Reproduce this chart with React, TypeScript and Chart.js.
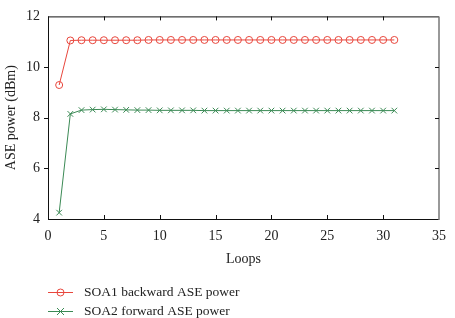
import React, { useEffect, useRef } from "react";
import { Chart, registerables } from "chart.js";

Chart.register(...registerables);

const loops: number[] = Array.from({ length: 31 }, (_, i) => i + 1);

const soa1Backward: number[] = [
  9.29, 11.05, 11.06, 11.06, 11.06, 11.06, 11.06, 11.06, 11.07, 11.07,
  11.07, 11.07, 11.07, 11.07, 11.07, 11.07, 11.07, 11.07, 11.07, 11.07,
  11.07, 11.07, 11.07, 11.07, 11.07, 11.07, 11.07, 11.07, 11.07, 11.07, 11.07,
];

const soa2Forward: number[] = [
  4.25, 8.15, 8.3, 8.32, 8.33, 8.32, 8.31, 8.3, 8.3, 8.29,
  8.29, 8.29, 8.29, 8.28, 8.28, 8.28, 8.28, 8.28, 8.28, 8.28,
  8.28, 8.28, 8.28, 8.28, 8.28, 8.28, 8.28, 8.28, 8.28, 8.28, 8.28,
];

const seriesNames: string[] = ["SOA1 backward ASE power", "SOA2 forward ASE power"];
const xTicks: number[] = [0, 5, 10, 15, 20, 25, 30, 35];
const yTicks: number[] = [4, 6, 8, 10, 12];
const xTitle = "Loops";
const yTitle = "ASE power (dBm)";

const RED = "#e8463c";
const GREEN = "#3b8a55";
const FONT = "'Liberation Serif', 'DejaVu Serif', serif";

const framePlugin = {
  id: "frameAndLegend",
  afterDraw(chart: any) {
    const { ctx, chartArea } = chart;
    const { left, right, top, bottom } = chartArea;
    const xs = chart.scales.x;
    const ys = chart.scales.y;
    ctx.save();
    // axes frame
    ctx.lineWidth = 1;
    ctx.strokeStyle = "#111";
    ctx.beginPath();
    ctx.moveTo(left, top + 0.5);
    ctx.lineTo(right, top + 0.5);
    ctx.moveTo(left + 0.5, top);
    ctx.lineTo(left + 0.5, bottom);
    ctx.moveTo(left, bottom + 0.5);
    ctx.lineTo(right, bottom + 0.5);
    ctx.stroke();
    ctx.strokeStyle = "#777";
    ctx.lineWidth = 1.5;
    ctx.beginPath();
    ctx.moveTo(right, top);
    ctx.lineTo(right, bottom + 1);
    ctx.stroke();

    // tick marks
    ctx.strokeStyle = "#111";
    ctx.lineWidth = 1;
    ctx.beginPath();
    xTicks.slice(1, -1).forEach((v) => {
      const px = Math.round(xs.getPixelForValue(v)) + 0.5;
      ctx.moveTo(px, bottom);
      ctx.lineTo(px, bottom - 4);
      ctx.moveTo(px, top);
      ctx.lineTo(px, top + 4);
    });
    yTicks.slice(1, -1).forEach((v) => {
      const py = Math.round(ys.getPixelForValue(v)) + 0.5;
      ctx.moveTo(left, py);
      ctx.lineTo(left - 4, py);
      ctx.moveTo(right, py);
      ctx.lineTo(right - 4, py);
    });
    ctx.stroke();

    // axis titles
    ctx.fillStyle = "#222";
    ctx.font = `14px ${FONT}`;
    ctx.textAlign = "center";
    ctx.textBaseline = "middle";
    ctx.fillText(xTitle, (left + right) / 2, 259);
    ctx.save();
    ctx.translate(11, (top + bottom) / 2);
    ctx.rotate(-Math.PI / 2);
    ctx.fillText(yTitle, 0, 0);
    ctx.restore();

    // legend
    const rows = [292, 311];
    chart.data.datasets.forEach((ds: any, i: number) => {
      const y = rows[i];
      ctx.strokeStyle = ds.borderColor;
      ctx.lineWidth = 1;
      ctx.beginPath();
      ctx.moveTo(48, y + 0.5);
      ctx.lineTo(73, y + 0.5);
      ctx.stroke();
      ctx.beginPath();
      if (ds.pointStyle === "circle") {
        ctx.arc(60.5, y + 0.5, 3.5, 0, Math.PI * 2);
      } else {
        ctx.moveTo(57, y - 3);
        ctx.lineTo(64, y + 4);
        ctx.moveTo(64, y - 3);
        ctx.lineTo(57, y + 4);
      }
      ctx.stroke();
      ctx.fillStyle = "#222";
      ctx.font = `13.5px ${FONT}`;
      ctx.textAlign = "left";
      ctx.textBaseline = "middle";
      ctx.fillText(ds.label, 84, y);
    });
    ctx.restore();
  },
};

export default function App() {
  const canvasRef = useRef<HTMLCanvasElement | null>(null);

  useEffect(() => {
    document.body.style.margin = "0";
    const canvas = canvasRef.current;
    if (!canvas) return;
    const chart = new Chart(canvas, {
      type: "line",
      data: {
        datasets: [
          {
            label: seriesNames[0],
            data: loops.map((x, i) => ({ x, y: soa1Backward[i] })),
            borderColor: RED,
            backgroundColor: "rgba(0,0,0,0)",
            borderWidth: 1,
            pointStyle: "circle",
            pointRadius: 3.5,
            pointBorderWidth: 1,
            pointBorderColor: RED,
            pointBackgroundColor: "rgba(255,255,255,0)",
            tension: 0,
          },
          {
            label: seriesNames[1],
            data: loops.map((x, i) => ({ x, y: soa2Forward[i] })),
            borderColor: GREEN,
            backgroundColor: "rgba(0,0,0,0)",
            borderWidth: 1,
            pointStyle: "crossRot",
            pointRadius: 4,
            pointBorderWidth: 1,
            pointBorderColor: GREEN,
            tension: 0,
          },
        ],
      },
      options: {
        responsive: false,
        animation: false,
        layout: { padding: { top: 15, right: 11, left: 0, bottom: 0 } },
        plugins: {
          legend: { display: false },
          tooltip: { enabled: false },
          title: { display: false },
        },
        scales: {
          x: {
            type: "linear",
            min: 0,
            max: 35,
            grid: { display: false, drawTicks: false },
            border: { display: false },
            afterBuildTicks: (scale: any) => {
              scale.ticks = xTicks.map((v) => ({ value: v }));
            },
            afterFit: (scale: any) => {
              scale.height = 99;
            },
            ticks: {
              padding: 9,
              color: "#222",
              font: { family: FONT, size: 14 },
              maxRotation: 0,
              autoSkip: false,
            },
          },
          y: {
            type: "linear",
            min: 4,
            max: 12,
            grid: { display: false, drawTicks: false },
            border: { display: false },
            afterBuildTicks: (scale: any) => {
              scale.ticks = yTicks.map((v) => ({ value: v }));
            },
            afterFit: (scale: any) => {
              scale.width = 48;
            },
            ticks: {
              padding: 8,
              color: "#222",
              font: { family: FONT, size: 14 },
            },
          },
        },
      },
      plugins: [framePlugin],
    });
    return () => chart.destroy();
  }, []);

  return <canvas ref={canvasRef} width={455} height={318} style={{ display: "block" }} />;
}
